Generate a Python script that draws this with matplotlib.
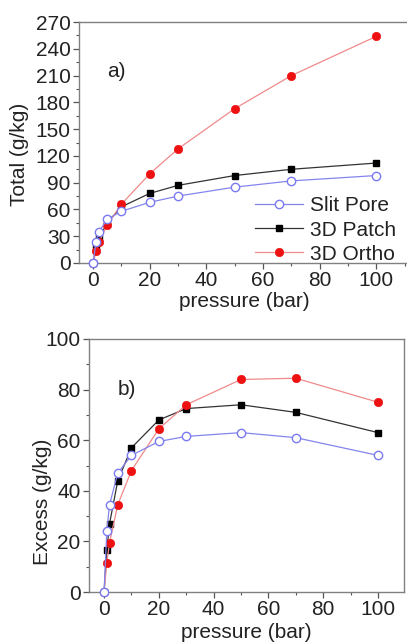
import matplotlib
matplotlib.use("Agg")
import matplotlib.pyplot as plt
from matplotlib.ticker import MultipleLocator

plt.rcParams['font.family'] = ['Liberation Sans', 'DejaVu Sans']

pressure = [0, 1, 2, 5, 10, 20, 30, 50, 70, 100]

total_slit = [0, 24, 35, 49, 58, 68, 75, 85, 92, 98]
total_patch = [0, 18, 28, 45, 63, 78, 87, 98, 105, 112]
total_ortho = [0, 13, 23, 43, 66, 100, 128, 173, 210, 254]

excess_slit = [0, 24, 34.5, 47, 54, 59.5, 61.5, 63, 61, 54]
excess_patch = [0, 16.5, 27, 44, 57, 68, 72.5, 74, 71, 63]
excess_ortho = [0, 11.5, 19.5, 34.5, 48, 64.5, 74, 84, 84.5, 75]

labels = ["Slit Pore", "3D Patch", "3D Ortho"]

W, H = 407, 643
fig = plt.figure(figsize=(W / 100, H / 100), dpi=100)

def ax_at(l, t, r, b):
    return fig.add_axes([l / W, 1 - b / H, (r - l) / W, (b - t) / H])

ax1 = ax_at(79, 22, 409, 263)
ax2 = ax_at(89, 339, 404, 592)

spine_col = '#808080'
txt_col = '#222222'
FS = 15

def style(ax):
    for s in ax.spines.values():
        s.set_color(spine_col)
        s.set_linewidth(1.0)
    ax.tick_params(which='both', direction='out', colors='#555555',
                   labelcolor=txt_col, labelsize=FS, top=False, right=False, pad=2)
    ax.tick_params(which='major', length=4, width=0.9)
    ax.tick_params(which='minor', length=2.5, width=0.8)
    ax.xaxis.set_major_locator(MultipleLocator(20))
    ax.xaxis.set_minor_locator(MultipleLocator(10))

def draw(ax, slit, patch, ortho):
    ax.plot(pressure, patch, '-s', color='#333333', lw=0.9, ms=5,
            mfc='black', mec='black', label=labels[1], zorder=4)
    ax.plot(pressure, ortho, '-o', color='#f08a8a', lw=0.9, ms=6,
            mfc='#ee1111', mec='#ee1111', mew=0.5, label=labels[2], zorder=5)
    ax.plot(pressure, slit, '-o', color='#8484ee', lw=0.9, ms=6,
            mfc='white', mec='#7a7af0', mew=1.0, label=labels[0], zorder=6)

draw(ax1, total_slit, total_patch, total_ortho)
style(ax1)
ax1.set_xlim(-5, 111.5)
ax1.set_ylim(0, 270)
ax1.yaxis.set_major_locator(MultipleLocator(30))
ax1.yaxis.set_minor_locator(MultipleLocator(15))
ax1.set_ylabel("Total (g/kg)", fontsize=FS, color=txt_col)
ax1.yaxis.set_label_coords(-0.15, 0.45)
ax1.set_xlabel("pressure (bar)", fontsize=FS, color=txt_col, labelpad=1)
ax1.text(0.085, 0.77, "a)", transform=ax1.transAxes, fontsize=FS, color=txt_col)
ax1.spines['right'].set_visible(False)
h, l = ax1.get_legend_handles_labels()
order = [2, 0, 1]
leg = ax1.legend([h[i] for i in order], [l[i] for i in order],
                 loc='lower right', bbox_to_anchor=(1.0, -0.055), frameon=False,
                 fontsize=FS, handlelength=2.3, handletextpad=0.35,
                 labelspacing=0.25, borderaxespad=0.2)
for t in leg.get_texts():
    t.set_color(txt_col)

draw(ax2, excess_slit, excess_patch, excess_ortho)
style(ax2)
ax2.set_xlim(-5.5, 109.5)
ax2.set_ylim(0, 100)
ax2.yaxis.set_major_locator(MultipleLocator(20))
ax2.yaxis.set_minor_locator(MultipleLocator(10))
ax2.set_ylabel("Excess (g/kg)", fontsize=FS, color=txt_col)
ax2.yaxis.set_label_coords(-0.117, 0.356)
ax2.set_xlabel("pressure (bar)", fontsize=FS, color=txt_col, labelpad=2.5)
ax2.text(0.09, 0.78, "b)", transform=ax2.transAxes, fontsize=FS, color=txt_col)

for ax in (ax1, ax2):
    for ln in ax.lines:
        ln.set_clip_on(False)

fig.savefig("out.png", dpi=100)
